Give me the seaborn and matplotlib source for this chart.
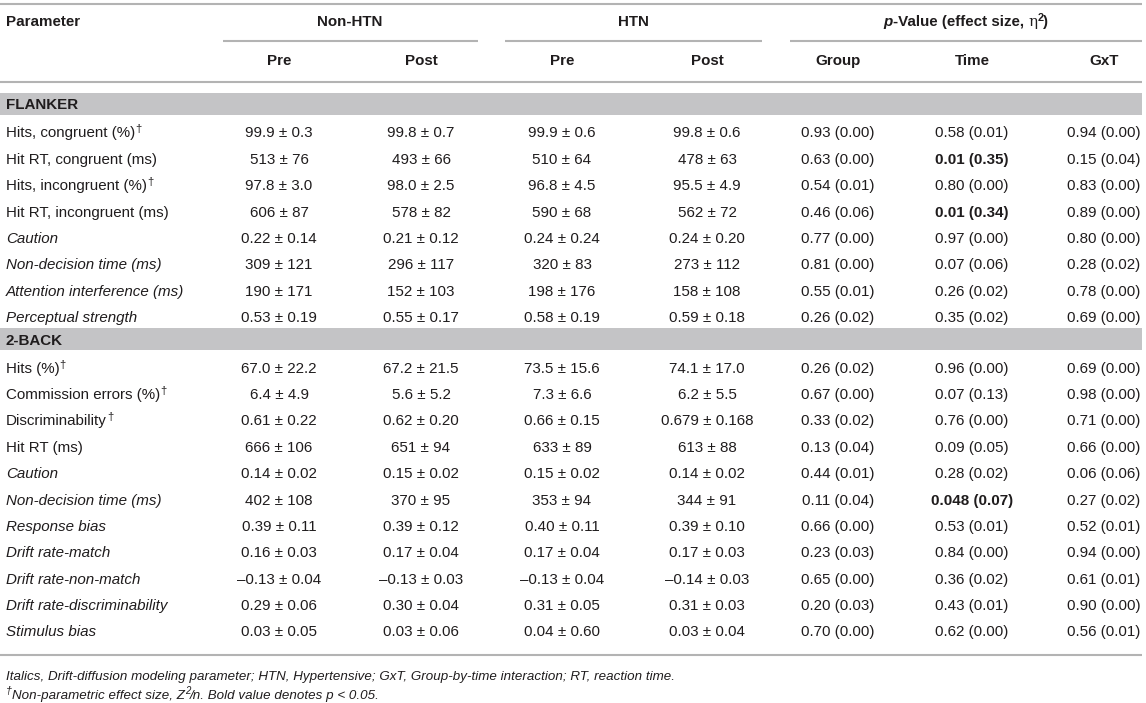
import numpy as np
import pandas as pd
import matplotlib
matplotlib.use("Agg")
import matplotlib.pyplot as plt
import seaborn as sns

# ---- table content ----
flanker_params = ["Hits, congruent (%)", "Hit RT, congruent (ms)", "Hits, incongruent (%)",
                  "Hit RT, incongruent (ms)", "Caution", "Non-decision time (ms)",
                  "Attention interference (ms)", "Perceptual strength"]
flanker_italic = [False, False, False, False, True, True, True, True]
flanker_dagger = [True, False, True, False, False, False, False, False]
flanker_nonhtn_pre = ["99.9 ± 0.3", "513 ± 76", "97.8 ± 3.0", "606 ± 87", "0.22 ± 0.14",
                      "309 ± 121", "190 ± 171", "0.53 ± 0.19"]
flanker_nonhtn_post = ["99.8 ± 0.7", "493 ± 66", "98.0 ± 2.5", "578 ± 82", "0.21 ± 0.12",
                       "296 ± 117", "152 ± 103", "0.55 ± 0.17"]
flanker_htn_pre = ["99.9 ± 0.6", "510 ± 64", "96.8 ± 4.5", "590 ± 68", "0.24 ± 0.24",
                   "320 ± 83", "198 ± 176", "0.58 ± 0.19"]
flanker_htn_post = ["99.8 ± 0.6", "478 ± 63", "95.5 ± 4.9", "562 ± 72", "0.24 ± 0.20",
                    "273 ± 112", "158 ± 108", "0.59 ± 0.18"]
flanker_group = ["0.93 (0.00)", "0.63 (0.00)", "0.54 (0.01)", "0.46 (0.06)", "0.77 (0.00)",
                 "0.81 (0.00)", "0.55 (0.01)", "0.26 (0.02)"]
flanker_time = ["0.58 (0.01)", "0.01 (0.35)", "0.80 (0.00)", "0.01 (0.34)", "0.97 (0.00)",
                "0.07 (0.06)", "0.26 (0.02)", "0.35 (0.02)"]
flanker_gxt = ["0.94 (0.00)", "0.15 (0.04)", "0.83 (0.00)", "0.89 (0.00)", "0.80 (0.00)",
               "0.28 (0.02)", "0.78 (0.00)", "0.69 (0.00)"]
flanker_time_bold = [False, True, False, True, False, False, False, False]

nback_params = ["Hits (%)", "Commission errors (%)", "Discriminability", "Hit RT (ms)", "Caution",
                "Non-decision time (ms)", "Response bias", "Drift rate-match",
                "Drift rate-non-match", "Drift rate-discriminability", "Stimulus bias"]
nback_italic = [False, False, False, False, True, True, True, True, True, True, True]
nback_dagger = [True, True, True, False, False, False, False, False, False, False, False]
nback_nonhtn_pre = ["67.0 ± 22.2", "6.4 ± 4.9", "0.61 ± 0.22", "666 ± 106", "0.14 ± 0.02",
                    "402 ± 108", "0.39 ± 0.11", "0.16 ± 0.03", "–0.13 ± 0.04", "0.29 ± 0.06",
                    "0.03 ± 0.05"]
nback_nonhtn_post = ["67.2 ± 21.5", "5.6 ± 5.2", "0.62 ± 0.20", "651 ± 94", "0.15 ± 0.02",
                     "370 ± 95", "0.39 ± 0.12", "0.17 ± 0.04", "–0.13 ± 0.03", "0.30 ± 0.04",
                     "0.03 ± 0.06"]
nback_htn_pre = ["73.5 ± 15.6", "7.3 ± 6.6", "0.66 ± 0.15", "633 ± 89", "0.15 ± 0.02",
                 "353 ± 94", "0.40 ± 0.11", "0.17 ± 0.04", "–0.13 ± 0.04", "0.31 ± 0.05",
                 "0.04 ± 0.60"]
nback_htn_post = ["74.1 ± 17.0", "6.2 ± 5.5", "0.679 ± 0.168", "613 ± 88", "0.14 ± 0.02",
                  "344 ± 91", "0.39 ± 0.10", "0.17 ± 0.03", "–0.14 ± 0.03", "0.31 ± 0.03",
                  "0.03 ± 0.04"]
nback_group = ["0.26 (0.02)", "0.67 (0.00)", "0.33 (0.02)", "0.13 (0.04)", "0.44 (0.01)",
               "0.11 (0.04)", "0.66 (0.00)", "0.23 (0.03)", "0.65 (0.00)", "0.20 (0.03)",
               "0.70 (0.00)"]
nback_time = ["0.96 (0.00)", "0.07 (0.13)", "0.76 (0.00)", "0.09 (0.05)", "0.28 (0.02)",
              "0.048 (0.07)", "0.53 (0.01)", "0.84 (0.00)", "0.36 (0.02)", "0.43 (0.01)",
              "0.62 (0.00)"]
nback_gxt = ["0.69 (0.00)", "0.98 (0.00)", "0.71 (0.00)", "0.66 (0.00)", "0.06 (0.06)",
             "0.27 (0.02)", "0.52 (0.01)", "0.94 (0.00)", "0.61 (0.01)", "0.90 (0.00)",
             "0.56 (0.01)"]
nback_time_bold = [False, False, False, False, False, True, False, False, False, False, False]

value_cols = ["Pre", "Post", "Pre ", "Post ", "Group", "Time", "GxT"]
group_labels = ["Non-HTN", "HTN"]
footnote1 = ("Italics, Drift-diffusion modeling parameter; HTN, Hypertensive; "
             "GxT, Group-by-time interaction; RT, reaction time.")


def section(params, italic, dagger, cols, time_bold):
    df = pd.DataFrame(dict(zip(value_cols, cols)))
    df.insert(0, "Parameter", params)
    df["italic"] = italic
    df["dagger"] = dagger
    df["time_bold"] = time_bold
    return df


sections = [
    ("FLANKER", section(flanker_params, flanker_italic, flanker_dagger,
                        [flanker_nonhtn_pre, flanker_nonhtn_post, flanker_htn_pre,
                         flanker_htn_post, flanker_group, flanker_time, flanker_gxt],
                        flanker_time_bold)),
    ("2-BACK", section(nback_params, nback_italic, nback_dagger,
                       [nback_nonhtn_pre, nback_nonhtn_post, nback_htn_pre, nback_htn_post,
                        nback_group, nback_time, nback_gxt],
                       nback_time_bold)),
]

# ---- style / layout ----
sns.set_theme(style="white")
plt.rcParams["font.family"] = ["Liberation Sans", "DejaVu Sans"]

W, H = 1146, 703
FS = 10.9
FN = 9.6
INK = "#1f1c1d"
RULE = "#b3b3b3"
BAND = "#c4c4c6"
LEFT = 6
col_x = [279, 421, 562, 707, 838, 972, 1104]
right_edge = 1142
row_step = 26.38

fig = plt.figure(figsize=(W / 100, H / 100), dpi=100)
ax = fig.add_axes([0, 0, 1, 1])
ax.set_xlim(0, W)
ax.set_ylim(H, 0)
ax.set_axis_off()
renderer = fig.canvas.get_renderer()


def rich(x, y, pieces, ha="left"):
    # pieces: (text, fontsize, extra text kwargs, vertical shift in px)
    arts = []
    for s, size, kw, dy in pieces:
        t = ax.text(0, y - dy, s, fontsize=size, color=INK, va="baseline", ha="left", **kw)
        arts.append(t)
    widths = [a.get_window_extent(renderer).width for a in arts]
    total = sum(widths)
    x0 = x - total / 2 if ha == "center" else x
    for a, w in zip(arts, widths):
        a.set_x(x0)
        x0 += w


def base(yc, size=FS):
    return yc + 0.36 * size * 100 / 72


# rules
ax.hlines([4, 82], 0, right_edge, color=RULE, lw=1.5)
ax.hlines([41, 41, 41], [223, 505, 790], [478, 762, right_edge], color=RULE, lw=1.5)

# header
B = dict(fontweight="bold")
rich(LEFT, base(21), [("Parameter", FS, B, 0)])
rich(350, base(21), [(group_labels[0], FS, B, 0)], ha="center")
rich(633, base(21), [(group_labels[1], FS, B, 0)], ha="center")
rich(966, base(21), [("p", FS, dict(fontweight="bold", style="italic"), 0),
                     ("-Value (effect size, ", FS, B, 0),
                     ("η", FS, dict(family="DejaVu Serif"), 0),
                     ("2", FS * 0.72, B, 5),
                     (")", FS, B, 0)], ha="center")
for cx, lab in zip(col_x, value_cols):
    rich(cx, base(60), [(lab.strip(), FS, B, 0)], ha="center")

# body
y = 104
for name, df in sections:
    ax.fill_between([0, right_edge], y - 11, y + 11, color=BAND, lw=0)
    rich(LEFT, base(y), [(name, FS, B, 0)])
    y += 28
    for _, r in df.iterrows():
        kw = dict(style="italic") if r["italic"] else {}
        pieces = [(r["Parameter"], FS, kw, 0)]
        if r["dagger"]:
            pieces.append(("†", FS * 0.75, {}, 5))
        rich(LEFT, base(y), pieces)
        for cx, c in zip(col_x, value_cols):
            kw = B if (c == "Time" and r["time_bold"]) else {}
            rich(cx, base(y), [(r[c], FS, kw, 0)], ha="center")
        y += row_step
    y += 11.5 - row_step + 11

# bottom rule and footnotes
ax.hlines(655, 0, right_edge, color=RULE, lw=1.5)
I = dict(style="italic")
rich(LEFT, base(675, FN), [(footnote1, FN, I, 0)])
rich(LEFT, base(694, FN), [("†", FN * 0.8, I, 5),
                           ("Non-parametric effect size, Z", FN, I, 0),
                           ("2", FN * 0.72, I, 5),
                           ("/n. Bold value denotes p < 0.05.", FN, I, 0)])

fig.savefig("out.png", dpi=100)
